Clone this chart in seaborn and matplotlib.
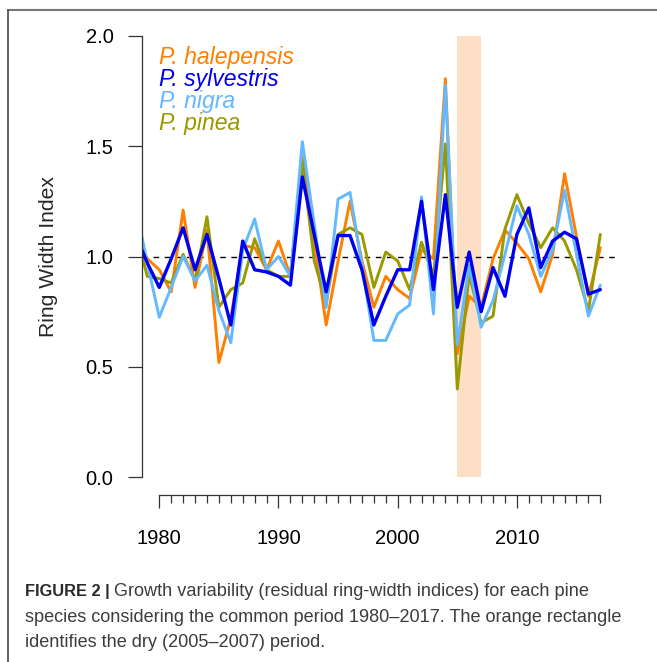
import numpy as np
import pandas as pd
import matplotlib
matplotlib.use("Agg")
import matplotlib.pyplot as plt
from matplotlib.lines import Line2D
from matplotlib.patches import Rectangle
import seaborn as sns

# Residual ring-width indices per species (1978-2017)
years = list(range(1978, 2018))

halepensis = [1.08, 0.99, 0.94, 0.84, 1.21, 0.86, 1.12, 0.52, 0.72, 1.05,
              1.04, 0.94, 1.07, 0.91, 1.45, 1.07, 0.69, 0.98, 1.25, 0.98,
              0.77, 0.91, 0.85, 0.81, 1.03, 0.99, 1.805, 0.56, 0.82, 0.77,
              0.99, 1.12, 1.06, 0.99, 0.84, 1.01, 1.375, 1.09, 0.82, 1.04]

sylvestris = [1.10, 0.97, 0.86, 0.99, 1.13, 0.94, 1.10, 0.90, 0.69, 1.07,
              0.94, 0.93, 0.91, 0.87, 1.36, 1.10, 0.84, 1.095, 1.095, 0.94,
              0.69, 0.82, 0.94, 0.94, 1.25, 0.85, 1.28, 0.77, 1.02, 0.75,
              0.95, 0.82, 1.10, 1.22, 0.95, 1.07, 1.11, 1.08, 0.83, 0.85]

nigra = [1.23, 0.97, 0.725, 0.86, 1.00, 0.89, 0.96, 0.755, 0.61, 1.03,
         1.17, 0.94, 1.00, 0.91, 1.52, 1.145, 0.77, 1.26, 1.29, 0.96,
         0.62, 0.62, 0.74, 0.78, 1.27, 0.74, 1.775, 0.60, 0.96, 0.68,
         0.80, 1.01, 1.23, 1.10, 0.91, 1.03, 1.30, 1.01, 0.73, 0.87]

pinea = [1.11, 0.91, 0.90, 0.88, 1.01, 0.89, 1.18, 0.77, 0.85, 0.88,
         1.08, 0.94, 0.91, 0.91, 1.43, 0.98, 0.79, 1.10, 1.13, 1.10,
         0.86, 1.02, 0.98, 0.85, 1.065, 0.91, 1.51, 0.40, 0.92, 0.70,
         0.73, 1.125, 1.28, 1.15, 1.04, 1.13, 1.07, 0.94, 0.755, 1.10]

species = ["P. halepensis", "P. sylvestris", "P. nigra", "P. pinea"]
colors = {"P. halepensis": "#FF7F00", "P. sylvestris": "#0000F0",
          "P. nigra": "#63B8FF", "P. pinea": "#999900"}
widths = {"P. halepensis": 2.1, "P. sylvestris": 2.4,
          "P. nigra": 2.1, "P. pinea": 2.1}
draw_order = ["P. halepensis", "P. pinea", "P. nigra", "P. sylvestris"]

dry_start, dry_end = 2005, 2007

df = pd.DataFrame({
    "year": years * 4,
    "rwi": halepensis + sylvestris + nigra + pinea,
    "species": sum([[s] * len(years) for s in species], []),
})

sns.set_style("ticks")
plt.rcParams["font.family"] = ["Liberation Sans", "DejaVu Sans"]

W, H = 657, 662
fig = plt.figure(figsize=(W / 100, H / 100), dpi=100)
ax = fig.add_axes([142 / W, 1 - 495 / H, 478 / W, 477 / H])

# dry period band
ax.add_patch(Rectangle((dry_start, 0), dry_end - dry_start, 2,
                       facecolor="#FDDFC6", edgecolor="none", zorder=0))
ax.axhline(1.0, color="black", lw=1.0, ls=(0, (4, 4)), zorder=1)

for sp in draw_order:
    sns.lineplot(data=df[df["species"] == sp], x="year", y="rwi",
                 color=colors[sp], lw=widths[sp], ax=ax,
                 estimator=None, sort=False, legend=False, zorder=2)

ax.set_xlim(1978.55, 2018.65)
ax.set_ylim(-0.08, 2.08)

for s in ["top", "right"]:
    ax.spines[s].set_visible(False)
ax.spines["left"].set_bounds(0, 2)
ax.spines["bottom"].set_bounds(1980, 2017)
for s in ["left", "bottom"]:
    ax.spines[s].set_color("#333333")
    ax.spines[s].set_linewidth(0.9)

ax.set_yticks([0, 0.5, 1.0, 1.5, 2.0])
ax.set_yticklabels(["0.0", "0.5", "1.0", "1.5", "2.0"])
ax.set_xticks([1980, 1990, 2000, 2010])
ax.set_xticks(range(1980, 2018), minor=True)
ax.tick_params(axis="y", direction="out", length=10, width=0.9,
               color="#333333", labelsize=14.5, pad=10.5, labelcolor="black")
ax.tick_params(axis="x", which="major", direction="out", length=9.4,
               width=0.9, color="#333333", labelsize=14.5, pad=15,
               labelcolor="black")
ax.tick_params(axis="x", which="minor", direction="out", length=5.8,
               width=0.9, color="#333333")

ax.set_xlabel("")
ax.set_ylabel("Ring Width Index", fontsize=15.2)
ax.yaxis.set_label_coords(-0.176, 0.5)

# species labels
for i, sp in enumerate(species):
    ax.text(1980.0, 1.902 - 0.1 * i, sp, color=colors[sp], fontsize=16.6,
            style="italic", va="center", ha="left")

# frame lines
fig.add_artist(Line2D([7.5 / W, 1], [1 - 9.5 / H, 1 - 9.5 / H],
                      transform=fig.transFigure, color="#777777", lw=1.5))
fig.add_artist(Line2D([7.5 / W, 7.5 / W], [0, 1 - 9.5 / H],
                      transform=fig.transFigure, color="#3a3a3a", lw=1.1))

# caption
cap_size = 13.1
cap_color = "#3c3c3c"
x0 = 25 / W
b1 = 1 - 596 / H
head = fig.text(x0, b1, "FIGURE 2 | ", fontsize=11.8, weight="bold",
                color="#2a2a2a", va="baseline", ha="left")
renderer = fig.canvas.get_renderer()
bb = head.get_window_extent(renderer=renderer)
fig.text(bb.x1 / W, b1,
         "Growth variability (residual ring-width indices) for each pine",
         fontsize=cap_size, color=cap_color, va="baseline", ha="left")
fig.text(x0, 1 - 622 / H,
         "species considering the common period 1980\u20132017. The orange rectangle",
         fontsize=cap_size, color=cap_color, va="baseline", ha="left")
fig.text(x0, 1 - 647 / H, "identifies the dry (2005\u20132007) period.",
         fontsize=cap_size, color=cap_color, va="baseline", ha="left")

fig.savefig("out.png", dpi=100)
